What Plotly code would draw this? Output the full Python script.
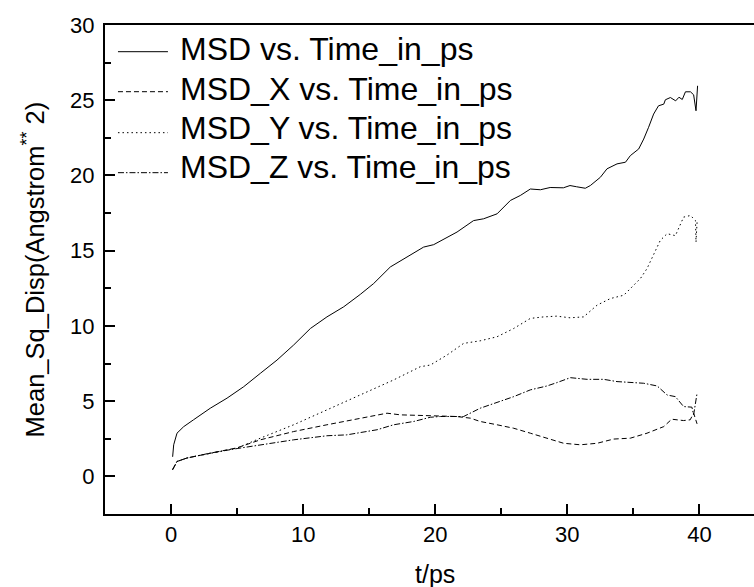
import plotly.graph_objects as go

# ---- data ----
series_names = ["MSD vs. Time_in_ps", "MSD_X vs. Time_in_ps",
                "MSD_Y vs. Time_in_ps", "MSD_Z vs. Time_in_ps"]

t_msd = [0.12, 0.2, 0.45, 0.95, 1.7, 2.97, 4.24, 5.5, 6.76, 8.02, 9.28, 10.55, 11.8, 13.07,
         14.33, 15.34, 16.6, 17.86, 19.12, 19.88, 21.65, 22.9, 23.66, 24.68, 25.69, 26.44,
         27.2, 27.96, 28.7, 29.7, 30.2, 30.7, 31.36, 31.74, 32.5, 33.0, 33.76, 34.4, 34.77,
         35.4, 35.78, 36.15, 36.53, 36.9, 37.3, 37.42, 37.8, 38.2, 38.45, 38.7, 38.94, 39.32,
         39.56, 39.74, 39.86]
y_msd = [1.3, 2.1, 2.87, 3.3, 3.76, 4.53, 5.2, 5.96, 6.85, 7.73, 8.73, 9.83, 10.6, 11.27,
         12.1, 12.82, 13.92, 14.58, 15.24, 15.4, 16.24, 17.0, 17.12, 17.45, 18.34, 18.67,
         19.1, 19.05, 19.2, 19.18, 19.33, 19.25, 19.15, 19.33, 19.88, 20.44, 20.77, 20.88, 21.32,
         21.76, 22.42, 23.2, 24.08, 24.63, 24.74, 25.03, 25.18, 24.96, 25.2, 25.05, 25.56, 25.56,
         25.36, 24.3, 25.96]

t_x = [0.12, 0.45, 1.2, 2.97, 5.0, 6.76, 9.28, 11.8, 14.33, 16.35, 17.36, 19.38, 20.5, 21.6,
       22.66, 23.4, 24.68, 25.94, 27.2, 28.46, 29.72, 30.98, 32.25, 33.5, 34.77, 36.03, 37.3,
       37.9, 38.8, 39.3, 39.56, 39.82]
y_x = [0.45, 0.99, 1.22, 1.55, 1.9, 2.43, 2.98, 3.43, 3.87, 4.2, 4.09, 4.02, 3.98, 3.98,
       3.87, 3.65, 3.43, 3.2, 2.87, 2.54, 2.2, 2.1, 2.2, 2.48, 2.54, 2.87, 3.31,
       3.8, 3.71, 3.76, 4.2, 3.49]

t_y = [0.12, 0.45, 1.2, 2.97, 5.0, 6.76, 9.28, 11.8, 14.33, 16.85, 18.87, 19.63, 20.9, 22.15,
       23.4, 24.68, 25.94, 27.2, 28.2, 29.2, 30.2, 31.23, 32.25, 33.26, 34.27, 34.77, 35.53,
       36.03, 36.53, 37.04, 37.55, 38.18, 38.8, 39.32, 39.7, 39.74, 39.82]
y_y = [0.45, 0.99, 1.22, 1.55, 1.88, 2.54, 3.43, 4.42, 5.41, 6.41, 7.29, 7.4, 8.07, 8.84,
       9.01, 9.28, 9.83, 10.5, 10.6, 10.65, 10.54, 10.6, 11.38, 11.82, 12.04, 12.48, 13.15,
       13.81, 14.8, 15.69, 16.13, 16.0, 17.23, 17.34, 17.0, 15.57, 16.9]

t_z = [0.12, 0.45, 1.2, 2.97, 5.0, 6.76, 9.28, 11.8, 13.3, 15.6, 16.85, 18.37, 19.63, 20.4,
       22.15, 23.4, 24.68, 25.94, 27.2, 28.46, 29.2, 30.23, 31.5, 32.75, 33.76, 34.77, 35.78,
       36.8, 37.55, 38.18, 38.8, 39.43, 39.56, 39.82]
y_z = [0.45, 0.99, 1.22, 1.55, 1.85, 2.1, 2.43, 2.7, 2.76, 3.1, 3.43, 3.65, 3.93, 3.98,
       3.98, 4.53, 4.9, 5.3, 5.75, 6.01, 6.23, 6.56, 6.45, 6.45, 6.3, 6.23, 6.19,
       6.01, 5.41, 5.3, 4.64, 4.6, 4.09, 5.53]

x_ticks = [0, 10, 20, 30, 40]
y_ticks = [0, 5, 10, 15, 20, 25, 30]

# ---- styles ----
FONT = "Liberation Sans, Arial, sans-serif"
dashes = ["solid", "5px,3px", "1.5px,3px", "6px,2px,1.5px,2px"]
xs = [t_msd, t_x, t_y, t_z]
ys = [y_msd, y_x, y_y, y_z]

fig = go.Figure()
for name, tx, ty, d in zip(series_names, xs, ys, dashes):
    fig.add_trace(go.Scatter(x=tx, y=ty, mode="lines", name=name,
                             line=dict(color="black", width=1, dash=d),
                             showlegend=False))

# manual legend (line sample + text)
leg_line_y = [0.9454, 0.8636, 0.7798, 0.698]
leg_text_y = [0.9499, 0.8681, 0.7894, 0.7086]
shapes = []
annotations = []
for name, d, ly, ty in zip(series_names, dashes, leg_line_y, leg_text_y):
    shapes.append(dict(type="line", xref="paper", yref="paper",
                       x0=0.02, x1=0.097, y0=ly, y1=ly,
                       line=dict(color="black", width=1, dash=d)))
    annotations.append(dict(xref="paper", yref="paper", x=0.112, y=ty,
                            xanchor="left", yanchor="middle", showarrow=False,
                            text=name, font=dict(family=FONT, size=32, color="black")))

# x-axis title centred on t = 20
annotations.append(dict(xref="x", yref="paper", x=20, y=0, yanchor="top", yshift=-44,
                        showarrow=False, text="t/ps",
                        font=dict(family=FONT, size=25, color="black")))
# y-axis title
annotations.append(dict(xref="paper", yref="paper", x=-0.111, y=0.5,
                        xanchor="center", yanchor="middle", textangle=-90, showarrow=False,
                        text="Mean_Sq_Disp(Angstrom<sup>**</sup> 2)",
                        font=dict(family=FONT, size=25.5, color="black")))

fig.update_layout(
    width=754, height=587,
    margin=dict(l=105, r=0, t=25, b=73),
    paper_bgcolor="white", plot_bgcolor="white",
    font=dict(family=FONT, color="black"),
    shapes=shapes, annotations=annotations,
    showlegend=False,
)
fig.update_xaxes(range=[-5, 44.13], showline=True, linewidth=2, linecolor="black",
                 mirror=True, showgrid=False, zeroline=False,
                 tickmode="array", tickvals=x_ticks, ticktext=[str(v) for v in x_ticks],
                 ticks="inside", ticklen=10, tickwidth=2, tickcolor="black",
                 tickfont=dict(family=FONT, size=22, color="black"),
                 minor=dict(ticks="inside", ticklen=6, tickwidth=2, tickcolor="black",
                            dtick=5, tick0=0, showgrid=False))
fig.update_yaxes(range=[-2.5, 30], showline=True, linewidth=2, linecolor="black",
                 mirror=False, showgrid=False, zeroline=False,
                 tickmode="array", tickvals=y_ticks, ticktext=[str(v) for v in y_ticks],
                 ticks="inside", ticklen=10, tickwidth=2, tickcolor="black",
                 ticklabelstandoff=4,
                 tickfont=dict(family=FONT, size=22, color="black"),
                 minor=dict(ticks="inside", ticklen=6, tickwidth=2, tickcolor="black",
                            dtick=2.5, tick0=0, showgrid=False))

fig.write_html("out.html", config={"displayModeBar": False},
               post_script="document.body.style.margin='0';")
